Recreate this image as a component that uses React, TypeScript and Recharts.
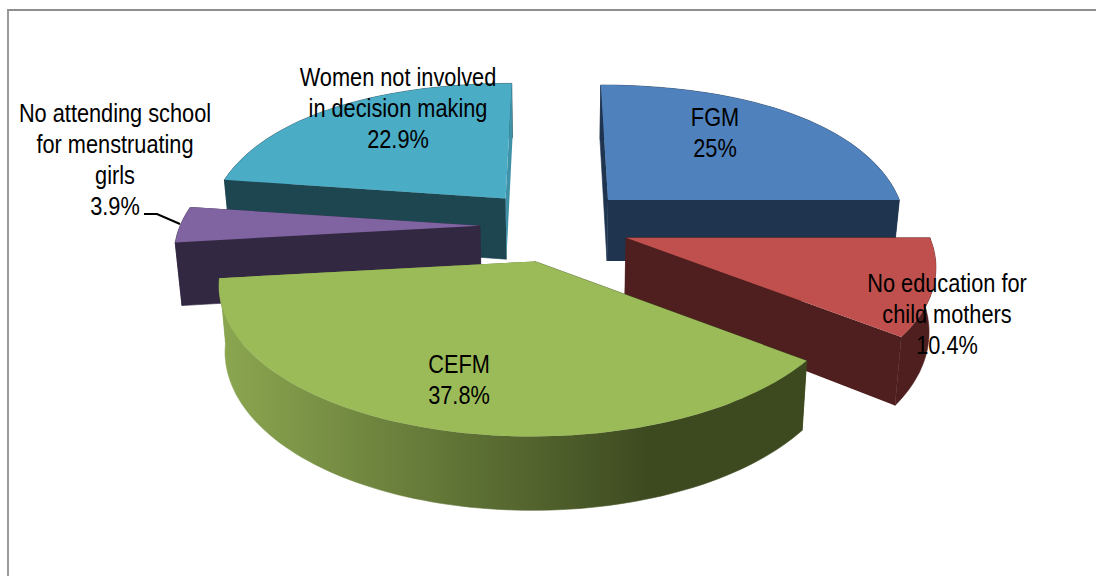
import React from "react";
import { PieChart, Pie } from "recharts";

const categories = ["FGM", "No education for child mothers", "CEFM", "No attending school for menstruating girls", "Women not involved in decision making"];
const shares = [25, 10.4, 37.8, 3.9, 22.9];
const labelLines = [["FGM"], ["No education for", "child mothers"], ["CEFM"], ["No attending school", "for menstruating", "girls"], ["Women not involved", "in decision making"]];
const topColors = ["#4f81bd", "#c0504d", "#9bbb59", "#8064a2", "#4bacc6"];
const wallColors = ["#1f344f", "#4e1f1e", "url(#cefmWall)", "#332842", "#1e4650"];
const endCutColors = ["#1f344f", "#4e1f1e", "url(#cefmWall)", "#332842", "#3f91a8"];
const paintOrder = [4, 0, 3, 1, 2];

const data = categories.map((name, i) => ({ name, value: shares[i] }));

// view geometry of the tilted, exploded pie
const CX = 555, CY = 226, RADIUS = 292, EXPLODE = 75;
const FLAT = 0.4966, NEAR = 0.207, VANISH_X = 553, VANISH_Y = -680, REF_Y = 202;
const LABEL_CENTER = [[715, 118], [947, 284], [459, 365], [115, 114], [398, 78]];
const LINE_STEP = 31;

const rad = (d: number) => (d * Math.PI) / 180;

function apexOf(midAngle: number) {
  const t = rad(90 - midAngle);
  return [CX + EXPLODE * Math.sin(t), CY - EXPLODE * 0.49 * Math.cos(t)];
}
function rimPoint(apex: number[], angle: number, r = 1) {
  const t = rad(90 - angle);
  const X = r * Math.sin(t), Y = -r * Math.cos(t);
  const sy = apex[1] + RADIUS * FLAT * Y * (1 + NEAR * Y);
  const s = (sy - VANISH_Y) / (apex[1] - VANISH_Y);
  const rp = (RADIUS * (apex[1] - VANISH_Y)) / (REF_Y - VANISH_Y);
  return [VANISH_X + (apex[0] - VANISH_X + rp * X) * s, sy];
}
function drop(p: number[]) {
  const h = 61 + (p[1] - REF_Y) * 0.055;
  return [VANISH_X + (p[0] - VANISH_X) * 0.982, p[1] + h];
}
const toPath = (pts: number[][]) => "M" + pts.map((p) => `${p[0].toFixed(1)},${p[1].toFixed(1)}`).join("L") + "Z";

function Slice3D(props: any) {
  const { startAngle, endAngle, index } = props;
  const apex = apexOf((startAngle + endAngle) / 2);
  const n = Math.max(4, Math.ceil(Math.abs(startAngle - endAngle) / 1.5));
  const rim: number[][] = [];
  for (let i = 0; i <= n; i++) rim.push(rimPoint(apex, startAngle + ((endAngle - startAngle) * i) / n));
  const first = rim[0], last = rim[n];
  const wall = wallColors[index];
  return (
    <g>
      <defs>
        <linearGradient id="cefmWall" gradientUnits="userSpaceOnUse" x1="222" y1="0" x2="650" y2="0">
          <stop offset="0" stopColor="#8ba650" />
          <stop offset="1" stopColor="#3d4a20" />
        </linearGradient>
      </defs>
      <path d={toPath([apex, first, drop(first), drop(apex)])} fill={wall} stroke={wall} strokeWidth={0.6} />
      <path d={toPath([...rim, ...rim.map(drop).reverse()])} fill={wall} stroke={wall} strokeWidth={0.6} />
      <path d={toPath([apex, last, drop(last), drop(apex)])} fill={endCutColors[index]} />
      <path d={toPath([apex, ...rim])} fill={topColors[index]} />
    </g>
  );
}

function SliceLabel(props: any) {
  const { index, value } = props;
  const [x, y] = LABEL_CENTER[index];
  const lines = [...labelLines[index], `${value}%`];
  return (
    <text transform={`translate(${x},${y + 8}) scale(0.87,1)`} textAnchor="middle" fontFamily="'Liberation Sans'" fontSize={25} fill="#000">
      {lines.map((l, i) => (
        <tspan key={i} x={0} y={i * LINE_STEP}>{l}</tspan>
      ))}
    </text>
  );
}

function SliceLeader(props: any) {
  if (props.index !== 3) return <g />;
  return <path d="M144,214H157L180,224" fill="none" stroke="#000" strokeWidth={2} />;
}

const shapeFor = (k: number) => (props: any) => (props.index === k ? <Slice3D {...props} /> : <g />);

export default function App() {
  return (
    <div style={{ position: "absolute", left: 0, top: 0, width: 1096, height: 576, overflow: "hidden", background: "#fff" }}>
      <div style={{ position: "absolute", left: 7, top: 9, width: 1200, height: 700, borderLeft: "2px solid #9a9a9a", borderTop: "2px solid #8e8e8e" }} />
      <div style={{ position: "absolute", left: 0, top: 0 }}>
        <PieChart width={1096} height={576} margin={{ top: 0, right: 0, bottom: 0, left: 0 }}>
          {paintOrder.map((k) => (
            <Pie
              key={k}
              data={data}
              dataKey="value"
              nameKey="name"
              cx={CX}
              cy={CY}
              outerRadius={RADIUS}
              startAngle={90}
              endAngle={-270}
              stroke="none"
              isAnimationActive={false}
              shape={shapeFor(k)}
            />
          ))}
          <Pie
            data={data}
            dataKey="value"
            nameKey="name"
            cx={CX}
            cy={CY}
            outerRadius={RADIUS}
            startAngle={90}
            endAngle={-270}
            stroke="none"
            fill="none"
            isAnimationActive={false}
            shape={() => <g />}
            label={SliceLabel}
            labelLine={SliceLeader}
          />
        </PieChart>
      </div>
    </div>
  );
}
